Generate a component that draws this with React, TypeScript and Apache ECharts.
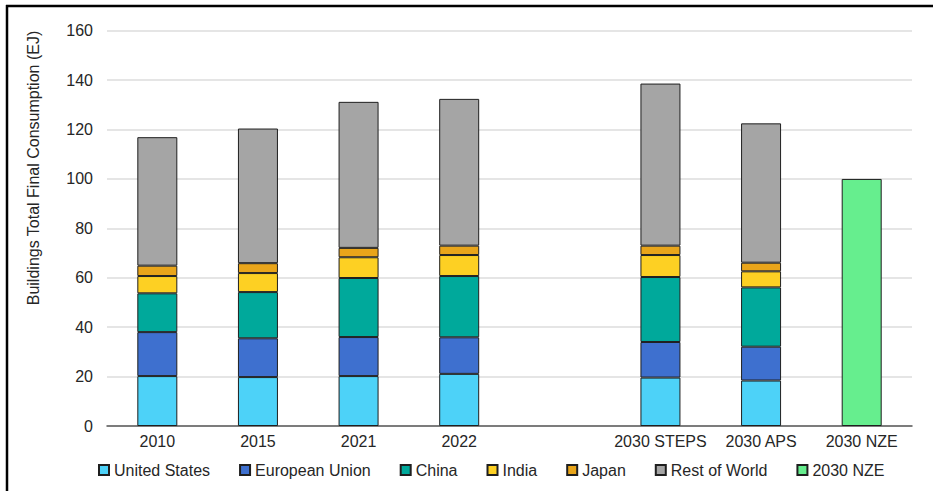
import React, { useEffect, useRef } from "react";
import * as echarts from "echarts";

const categories = ["2010", "2015", "2021", "2022", "", "2030 STEPS", "2030 APS", "2030 NZE"];
const unitedStates = [20.2, 19.8, 20.2, 21.1, null, 19.6, 18.4, null];
const europeanUnion = [17.8, 15.7, 15.8, 14.8, null, 14.4, 13.7, null];
const china = [15.7, 18.7, 23.9, 24.8, null, 26.3, 24.0, null];
const india = [7.0, 7.7, 8.4, 8.5, null, 8.9, 6.5, null];
const japan = [4.2, 4.0, 3.8, 3.8, null, 3.8, 3.5, null];
const restOfWorld = [52.0, 54.5, 59.1, 59.4, null, 65.6, 56.4, null];
const nze = [null, null, null, null, null, null, null, 100];
const yTicks = [0, 20, 40, 60, 80, 100, 120, 140, 160];

const FONT = "Liberation Sans, Arial, sans-serif";

export default function App() {
  const ref = useRef<HTMLDivElement>(null);
  useEffect(() => {
    if (!ref.current) return;
    const chart = echarts.init(ref.current, null, { renderer: "svg" });
    const mk = (name: string, data: (number | null)[], color: string, stack?: string) => ({
      name,
      type: "bar",
      stack,
      data,
      barWidth: 40,
      itemStyle: { color, borderColor: "#1f1f1f", borderWidth: 1 },
    });
    chart.setOption({
      animation: false,
      backgroundColor: "#ffffff",
      textStyle: { fontFamily: FONT },
      grid: { left: 107, right: 21, top: 30.7, bottom: 65 },
      xAxis: {
        type: "category",
        data: categories,
        axisLine: { lineStyle: { color: "#595959", width: 1.5 } },
        axisTick: { show: false },
        axisLabel: { color: "#262626", fontSize: 16, fontFamily: FONT, margin: 7, interval: 0 },
      },
      yAxis: {
        type: "value",
        min: yTicks[0],
        max: yTicks[yTicks.length - 1],
        interval: 20,
        axisLine: { show: false },
        axisTick: { show: false },
        axisLabel: { color: "#262626", fontSize: 16, fontFamily: FONT, margin: 14 },
        splitLine: { lineStyle: { color: "#dcdcdc", width: 1.5 } },
      },
      legend: {
        left: 93,
        top: 457,
        itemWidth: 10,
        itemHeight: 10,
        itemGap: 29,
        icon: "rect",
        textStyle: { fontSize: 16, color: "#262626", fontFamily: FONT },
        data: ["United States", "European Union", "China", "India", "Japan", "Rest of World", "2030 NZE"],
      },
      graphic: [
        {
          type: "text",
          x: 33,
          y: 168,
          rotation: Math.PI / 2,
          style: {
            text: "Buildings Total Final Consumption (EJ)",
            fontSize: 16,
            fontFamily: FONT,
            fill: "#262626",
            align: "center",
            verticalAlign: "middle",
          },
        },
        { type: "line", shape: { x1: 6, y1: 6, x2: 933, y2: 6 }, style: { stroke: "#000", lineWidth: 2.5 } },
        { type: "line", shape: { x1: 7, y1: 5, x2: 7, y2: 491 }, style: { stroke: "#000", lineWidth: 2.5 } },
      ],
      series: [
        mk("United States", unitedStates, "#4dd2f8", "s"),
        mk("European Union", europeanUnion, "#3e70cf", "s"),
        mk("China", china, "#00a99b", "s"),
        mk("India", india, "#fdd023", "s"),
        mk("Japan", japan, "#e9a51a", "s"),
        mk("Rest of World", restOfWorld, "#a5a5a5", "s"),
        mk("2030 NZE", nze, "#66ee8e", "s"),
      ],
    });
    return () => chart.dispose();
  }, []);
  return (
    <div
      ref={ref}
      style={{ position: "fixed", left: 0, top: 0, width: 933, height: 491, background: "#fff" }}
    />
  );
}
